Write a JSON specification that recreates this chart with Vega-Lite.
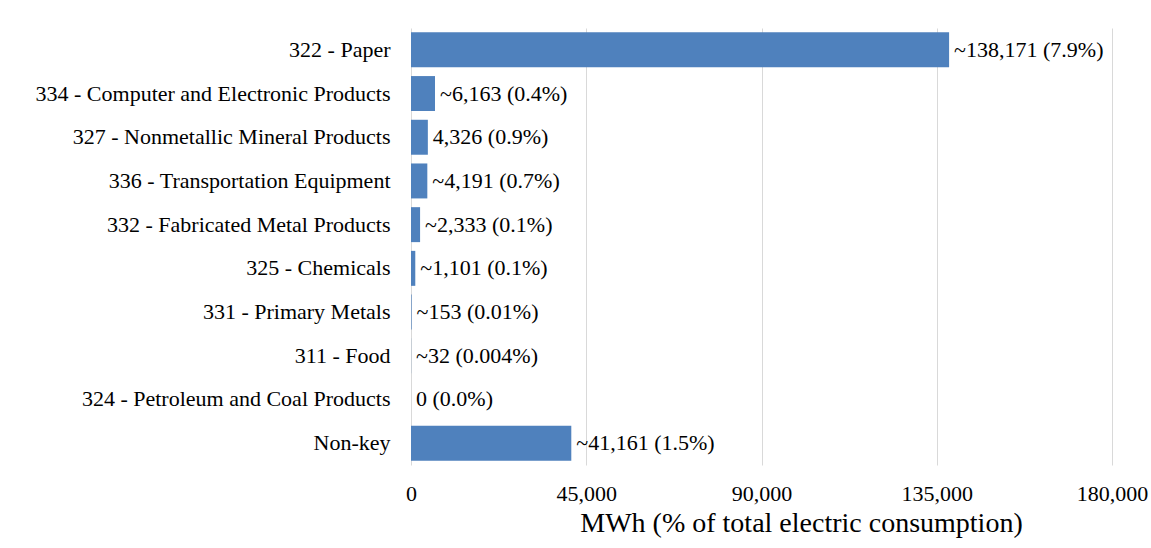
{
  "$schema": "https://vega.github.io/schema/vega-lite/v6.json",
  "autosize": "none",
  "width": 701,
  "height": 437,
  "padding": {"left": 411, "top": 28, "right": 39, "bottom": 83},
  "background": "white",
  "data": {
    "values": [
      {"sector": "322 - Paper", "mwh": 138171, "label": "~138,171 (7.9%)"},
      {"sector": "334 - Computer and Electronic Products", "mwh": 6163, "label": "~6,163 (0.4%)"},
      {"sector": "327 - Nonmetallic Mineral Products", "mwh": 4326, "label": "4,326 (0.9%)"},
      {"sector": "336 - Transportation Equipment", "mwh": 4191, "label": "~4,191 (0.7%)"},
      {"sector": "332 - Fabricated Metal Products", "mwh": 2333, "label": "~2,333 (0.1%)"},
      {"sector": "325 - Chemicals", "mwh": 1101, "label": "~1,101 (0.1%)"},
      {"sector": "331 - Primary Metals", "mwh": 153, "label": "~153 (0.01%)"},
      {"sector": "311 - Food", "mwh": 32, "label": "~32 (0.004%)"},
      {"sector": "324 - Petroleum and Coal Products", "mwh": 0, "label": "0 (0.0%)"},
      {"sector": "Non-key", "mwh": 41161, "label": "~41,161 (1.5%)"}
    ]
  },
  "encoding": {
    "y": {
      "field": "sector",
      "type": "nominal",
      "sort": null,
      "scale": {"paddingInner": 0.2, "paddingOuter": 0.1},
      "axis": {
        "title": null,
        "domain": false,
        "ticks": false,
        "labelPadding": 21,
        "labelFont": "Times New Roman, Liberation Serif, serif",
        "labelFontSize": 22,
        "labelColor": "#000000",
        "labelLimit": 500
      }
    },
    "x": {
      "field": "mwh",
      "type": "quantitative",
      "scale": {"domain": [0, 180000], "nice": false},
      "axis": {
        "values": [0, 45000, 90000, 135000, 180000],
        "format": ",.0f",
        "title": "MWh (% of total electric consumption)",
        "titleFont": "Times New Roman, Liberation Serif, serif",
        "titleFontSize": 28,
        "titleFontWeight": "normal",
        "titleColor": "#000000",
        "titleX": 390,
        "titleY": 66,
        "titleBaseline": "alphabetic",
        "domain": false,
        "ticks": false,
        "labelFlush": false,
        "labelOverlap": false,
        "labelPadding": 18,
        "labelFont": "Times New Roman, Liberation Serif, serif",
        "labelFontSize": 22,
        "labelColor": "#000000",
        "gridColor": "#d9d9d9",
        "gridWidth": 1
      }
    }
  },
  "layer": [
    {"mark": {"type": "bar", "color": "#4f81bd"}},
    {
      "mark": {"type": "text", "align": "left", "baseline": "middle", "dx": 5, "font": "Times New Roman, Liberation Serif, serif", "fontSize": 22, "color": "#000000"},
      "encoding": {"text": {"field": "label"}}
    }
  ],
  "config": {"view": {"stroke": null}}
}
